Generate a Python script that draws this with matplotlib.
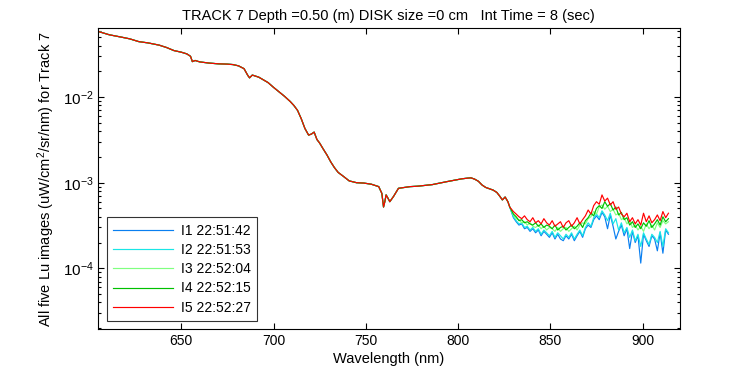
import numpy as np
import matplotlib
matplotlib.use("Agg")
import matplotlib.pyplot as plt
from matplotlib.ticker import LogLocator, FixedLocator, NullFormatter

plt.rcParams['font.family'] = ['Liberation Sans Narrow', 'Liberation Sans', 'DejaVu Sans']
plt.rcParams['mathtext.fontset'] = 'custom'
plt.rcParams['mathtext.rm'] = 'Liberation Sans'
plt.rcParams['mathtext.it'] = 'Liberation Sans'
plt.rcParams['mathtext.default'] = 'regular'

# part of the spectrum where all five images lie on top of each other
wl_common = [605, 608, 611, 614, 618, 622, 627, 632, 638, 642, 646, 650, 653, 655, 656,
             657.5, 660, 665, 670, 675, 678, 681, 684, 686, 687, 688.5, 692, 697, 700,
             703.5, 706, 709, 711, 713, 715, 717, 719, 720.5, 722, 723.5, 725, 727, 729,
             731, 733, 735, 738, 741, 745, 749, 753, 757, 758.7, 759.6, 760.3, 761, 762,
             763, 765, 767.7, 771, 774, 778, 782, 786, 790, 794, 798, 802, 805, 807, 809,
             811, 813, 815, 817, 819, 821, 822.5, 824, 825.5, 827, 828]
lu_common = [0.0585, 0.056, 0.0535, 0.052, 0.050, 0.048, 0.0445, 0.043, 0.0405, 0.038,
             0.035, 0.0335, 0.032, 0.030, 0.026, 0.0268, 0.0258, 0.025, 0.0245, 0.0243,
             0.024, 0.0232, 0.0215, 0.0180, 0.0168, 0.0181, 0.0171, 0.0148, 0.013, 0.0113,
             0.0102, 0.0089, 0.0080, 0.0070, 0.0056, 0.0043, 0.0036, 0.0037, 0.0039, 0.0032,
             0.0029, 0.00246, 0.0021, 0.00175, 0.0015, 0.00132, 0.00118, 0.00105, 0.00100,
             0.00099, 0.00096, 0.00090, 0.00075, 0.00052, 0.00060, 0.00072, 0.00066,
             0.00060, 0.00069, 0.00086, 0.00088, 0.00090, 0.00091, 0.00093, 0.00095,
             0.00099, 0.00103, 0.00107, 0.00111, 0.00113, 0.00114, 0.00110, 0.00104,
             0.00094, 0.00088, 0.00085, 0.00082, 0.00077, 0.00070, 0.00063, 0.00068,
             0.00060, 0.00052]

# noisy tail 830-914 nm, values in 1e-4 uW/cm^2/sr/nm
wl_tail = np.arange(830, 915, 1.5)
i1_tail = [3.9, 3.5, 3.2, 3.3, 2.9, 3.0, 2.7, 2.9, 2.6, 2.8, 2.4, 2.7, 2.5, 2.3, 2.6, 2.2,
           2.5, 2.2, 2.1, 2.4, 2.2, 2.5, 2.1, 2.4, 2.7, 2.3, 2.9, 3.2, 3.0, 3.7, 4.1, 3.7,
           4.5, 4.0, 2.9, 4.2, 3.1, 2.2, 2.7, 3.2, 2.4, 2.9, 1.7, 2.7, 2.0, 2.4, 1.15, 2.5,
           2.1, 1.8, 2.4, 2.2, 1.6, 2.6, 1.5, 2.8, 2.5]
i2_tail = [4.0, 3.6, 3.3, 3.4, 3.0, 3.1, 2.8, 3.0, 2.7, 2.9, 2.5, 2.8, 2.6, 2.4, 2.7, 2.3,
           2.6, 2.4, 2.2, 2.5, 2.3, 2.6, 2.2, 2.5, 2.8, 2.4, 3.0, 3.4, 3.1, 3.9, 4.3, 3.9,
           4.7, 4.2, 3.6, 4.4, 3.3, 3.8, 2.8, 3.4, 2.6, 3.0, 2.3, 2.8, 2.1, 2.5, 1.8, 2.6,
           2.2, 1.9, 2.5, 2.3, 2.0, 2.7, 1.8, 2.9, 2.6]
i3_tail = [4.2, 3.8, 3.7, 3.4, 3.5, 3.2, 3.4, 3.1, 3.0, 3.2, 2.9, 3.1, 2.8, 3.0, 2.9, 2.7,
           3.0, 2.7, 2.9, 3.0, 2.7, 2.9, 3.1, 2.8, 3.2, 3.4, 3.3, 3.8, 4.0, 4.6, 4.3, 5.2,
           5.5, 4.9, 5.3, 4.6, 4.9, 4.2, 4.4, 3.7, 3.9, 3.3, 3.6, 3.0, 3.2, 2.8, 3.1, 2.7,
           3.3, 2.9, 3.2, 2.8, 3.4, 3.0, 3.6, 3.3, 3.5]
i4_tail = [4.3, 4.0, 3.6, 3.7, 3.4, 3.5, 3.3, 3.2, 3.4, 3.1, 3.3, 3.0, 3.2, 3.1, 2.9, 3.2,
           2.8, 3.0, 3.1, 2.8, 3.0, 3.2, 2.9, 3.1, 3.4, 3.0, 3.6, 3.9, 4.4, 4.1, 5.0, 5.4,
           5.0, 6.0, 5.3, 5.7, 4.8, 5.2, 4.2, 4.5, 3.7, 3.9, 3.2, 3.5, 3.0, 3.3, 2.9, 3.4,
           3.1, 3.6, 3.0, 3.3, 3.7, 3.2, 4.0, 3.5, 3.8]
i5_tail = [4.6, 4.3, 4.0, 3.8, 4.1, 3.7, 3.5, 3.9, 3.4, 3.6, 3.3, 3.8, 3.4, 3.2, 3.6, 3.1,
           3.3, 3.5, 3.0, 3.4, 3.6, 3.1, 3.4, 3.9, 3.3, 3.7, 4.1, 4.8, 4.3, 5.4, 6.0, 5.6,
           7.2, 6.1, 6.6, 5.5, 6.0, 4.9, 5.2, 4.3, 4.0, 4.4, 3.5, 3.9, 3.3, 3.7, 3.2, 4.4,
           3.5, 4.1, 3.4, 3.7, 4.2, 3.6, 4.6, 3.9, 4.4]

labels = ['I1 22:51:42', 'I2 22:51:53', 'I3 22:52:04', 'I4 22:52:15', 'I5 22:52:27']
colors = ['#0a7ff0', '#19e6e6', '#80ff80', '#00c000', '#ff0000']
tails = [i1_tail, i2_tail, i3_tail, i4_tail, i5_tail]

fig = plt.figure(figsize=(7.5, 3.75), dpi=100)
ax = fig.add_axes([0.131, 0.122, 0.775, 0.803])

for lab, col, tail in zip(labels, colors, tails):
    xs = list(wl_common) + list(wl_tail)
    ys = list(lu_common) + [v * 1e-4 for v in tail]
    ax.plot(xs, ys, color=col, lw=0.85, label=lab)

ax.set_yscale('log')
ax.set_xlim(605, 920)
ax.set_ylim(1.94e-5, 0.064)
ax.xaxis.set_major_locator(FixedLocator([650, 700, 750, 800, 850, 900]))
ax.yaxis.set_major_locator(LogLocator(base=10, numticks=10))
ax.yaxis.set_minor_locator(LogLocator(base=10, subs=np.arange(2, 10), numticks=20))
ax.yaxis.set_minor_formatter(NullFormatter())
ax.tick_params(which='both', direction='in', top=True, right=True, labelsize=10)
ax.tick_params(axis='y', labelsize=11)
ax.tick_params(which='major', length=4.5, width=0.8)
ax.tick_params(which='minor', length=2.3, width=0.8)
for s in ax.spines.values():
    s.set_linewidth(0.8)

ax.set_title('TRACK 7 Depth =0.50 (m) DISK size =0 cm   Int Time = 8 (sec)', fontsize=10.5, pad=6)
ax.set_xlabel('Wavelength (nm)', fontsize=10.5, labelpad=3)
ax.set_ylabel('All five Lu images (uW/cm$^2$/sr/nm) for Track 7', fontsize=10.5, labelpad=4)

leg = ax.legend(loc='lower left', fontsize=10, handlelength=4.3, frameon=True, fancybox=False,
                edgecolor='black', borderaxespad=0.6, labelspacing=0.38, borderpad=0.45,
                handletextpad=0.6)
leg.get_frame().set_linewidth(0.8)

fig.savefig('out.png', dpi=100)
